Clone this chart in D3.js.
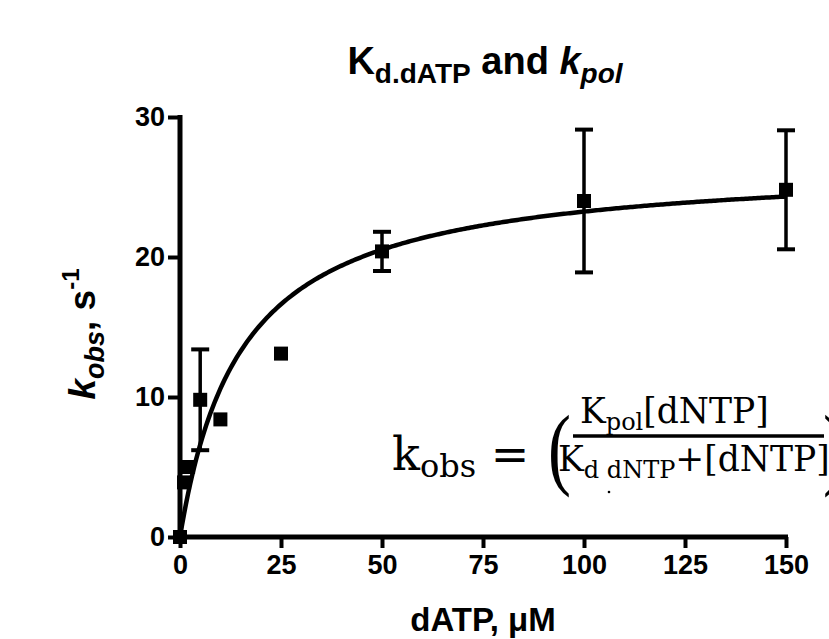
<!DOCTYPE html>
<html>
<head>
<meta charset="utf-8">
<script src="https://cdn.jsdelivr.net/npm/d3@7"></script>
<style>
  html, body { margin: 0; padding: 0; background: #fff; }
  svg { display: block; }
  .lab { font-family: "Liberation Sans", Arial, sans-serif; font-weight: bold; fill: #000; }
  .eq { font-family: "DejaVu Serif", "Liberation Serif", serif; fill: #000; }
</style>
</head>
<body>
<svg id="chart" width="829" height="639"></svg>
<script>
// ---- data ----
const concentrations = [0, 1, 2, 5, 10, 25, 50, 100, 150];      // dATP, µM
const kobsMean      = [0, 3.9, 5.0, 9.8, 8.4, 13.1, 20.4, 24.0, 24.8];
const kobsSD        = [0, 0, 0, 3.6, 0, 0, 1.4, 5.1, 4.25];
const xTicks = [0, 25, 50, 75, 100, 125, 150];
const yTicks = [0, 10, 20, 30];
// hyperbolic fit parameters
const fitKpol = 26.8;
const fitKd = 15.3;

const svg = d3.select("#chart");
const x = d3.scaleLinear().domain([0, 150]).range([180, 786]);
const y = d3.scaleLinear().domain([0, 30]).range([537, 117]);

// axes
const yAxis = d3.axisLeft(y).tickValues(yTicks).tickSize(12).tickSizeOuter(0).tickPadding(3);
const xAxis = d3.axisBottom(x).tickValues(xTicks).tickSize(11).tickSizeOuter(0).tickPadding(7);

const gy = svg.append("g").attr("transform", `translate(${x(0)},0)`).call(yAxis);
const gx = svg.append("g").attr("transform", `translate(0,${y(0)})`).call(xAxis);
[gx, gy].forEach(g => {
  g.select(".domain").attr("stroke", "#000").attr("stroke-width", 5);
  g.selectAll(".tick line").attr("stroke", "#000").attr("stroke-width", 4);
  g.selectAll(".tick text").attr("class", "lab").style("font-size", "27px")
    .style("font-family", "'Liberation Sans', Arial, sans-serif").style("font-weight", "bold").attr("fill", "#000");
});
gy.select(".domain").attr("d", `M0,${y(30) - 2}V${y(0) + 2}`);
gx.select(".domain").attr("d", `M${x(0) - 2},0H${x(150) + 2}`);

// fitted curve
const curveX = d3.range(0, 150.01, 0.5);
const line = d3.line()
  .x(d => x(d))
  .y(d => y(fitKpol * d / (fitKd + d)));
svg.append("path").datum(curveX)
  .attr("d", line).attr("fill", "none").attr("stroke", "#000").attr("stroke-width", 4.5);

// error bars
const pts = concentrations.map((c, i) => ({ c, m: kobsMean[i], sd: kobsSD[i] }));
const eb = svg.append("g").selectAll("g").data(pts.filter(d => d.sd > 0)).join("g");
eb.append("line")
  .attr("x1", d => x(d.c)).attr("x2", d => x(d.c))
  .attr("y1", d => y(d.m + d.sd)).attr("y2", d => y(d.m - d.sd))
  .attr("stroke", "#000").attr("stroke-width", 3.5);
[1, -1].forEach(s => {
  eb.append("line")
    .attr("x1", d => x(d.c) - 9).attr("x2", d => x(d.c) + 9)
    .attr("y1", d => y(d.m + s * d.sd)).attr("y2", d => y(d.m + s * d.sd))
    .attr("stroke", "#000").attr("stroke-width", 4);
});

// markers
svg.append("g").selectAll("rect").data(pts).join("rect")
  .attr("x", d => x(d.c) - 7).attr("y", d => y(d.m) - 7)
  .attr("width", 14).attr("height", 14).attr("fill", "#000");

// title
const title = svg.append("text").attr("class", "lab").attr("x", 485).attr("y", 74)
  .attr("text-anchor", "middle").style("font-size", "38px");
title.append("tspan").text("K");
title.append("tspan").attr("dy", 9).style("font-size", "28px").text("d.dATP");
title.append("tspan").attr("dy", -9).text(" and ");
title.append("tspan").style("font-style", "italic").text("k");
title.append("tspan").attr("dy", 9).style("font-size", "28px").style("font-style", "italic").text("pol");

// y label
const yl = svg.append("text").attr("class", "lab")
  .attr("transform", "translate(95,334) rotate(-90)")
  .attr("text-anchor", "middle").style("font-size", "37px");
yl.append("tspan").style("font-style", "italic").text("k");
yl.append("tspan").attr("dy", 9).style("font-size", "27px").style("font-style", "italic").text("obs");
yl.append("tspan").attr("dy", -9).text(", s");
yl.append("tspan").attr("dy", -16).style("font-size", "24px").text("-1");

// x label
svg.append("text").attr("class", "lab").attr("x", 483).attr("y", 631)
  .attr("text-anchor", "middle").style("font-size", "33px").text("dATP, \u03bcM");

// equation
const eqLeft = svg.append("text").attr("class", "eq").attr("x", 392).attr("y", 470).style("font-size", "46px");
eqLeft.append("tspan").text("k");
eqLeft.append("tspan").attr("dy", 7).style("font-size", "32px").text("obs");
eqLeft.append("tspan").attr("dy", -7).text(" =");

svg.append("text").attr("class", "eq").attr("transform", "translate(548,478) scale(0.75,1)")
  .style("font-size", "92px").style("font-family", "'Liberation Serif', serif").text("(");
svg.append("text").attr("class", "eq").attr("transform", "translate(823,478) scale(0.75,1)")
  .style("font-size", "92px").style("font-family", "'Liberation Serif', serif").text(")");

const num = svg.append("text").attr("class", "eq").attr("x", 580).attr("y", 423).style("font-size", "34.5px");
num.append("tspan").text("K");
num.append("tspan").attr("dy", 7).style("font-size", "24px").text("pol");
num.append("tspan").attr("dy", -7).text("[dNTP]");

svg.append("line").attr("x1", 573).attr("x2", 824).attr("y1", 436).attr("y2", 436)
  .attr("stroke", "#000").attr("stroke-width", 3.5);

const den = svg.append("text").attr("class", "eq").attr("x", 558).attr("y", 471).style("font-size", "34.5px");
den.append("tspan").text("K");
den.append("tspan").attr("dy", 7).style("font-size", "24px").text("d dNTP");
den.append("tspan").attr("dy", -7).text("+[dNTP]");
svg.append("circle").attr("cx", 609).attr("cy", 492).attr("r", 1.3).attr("fill", "#000");
</script>
</body>
</html>
